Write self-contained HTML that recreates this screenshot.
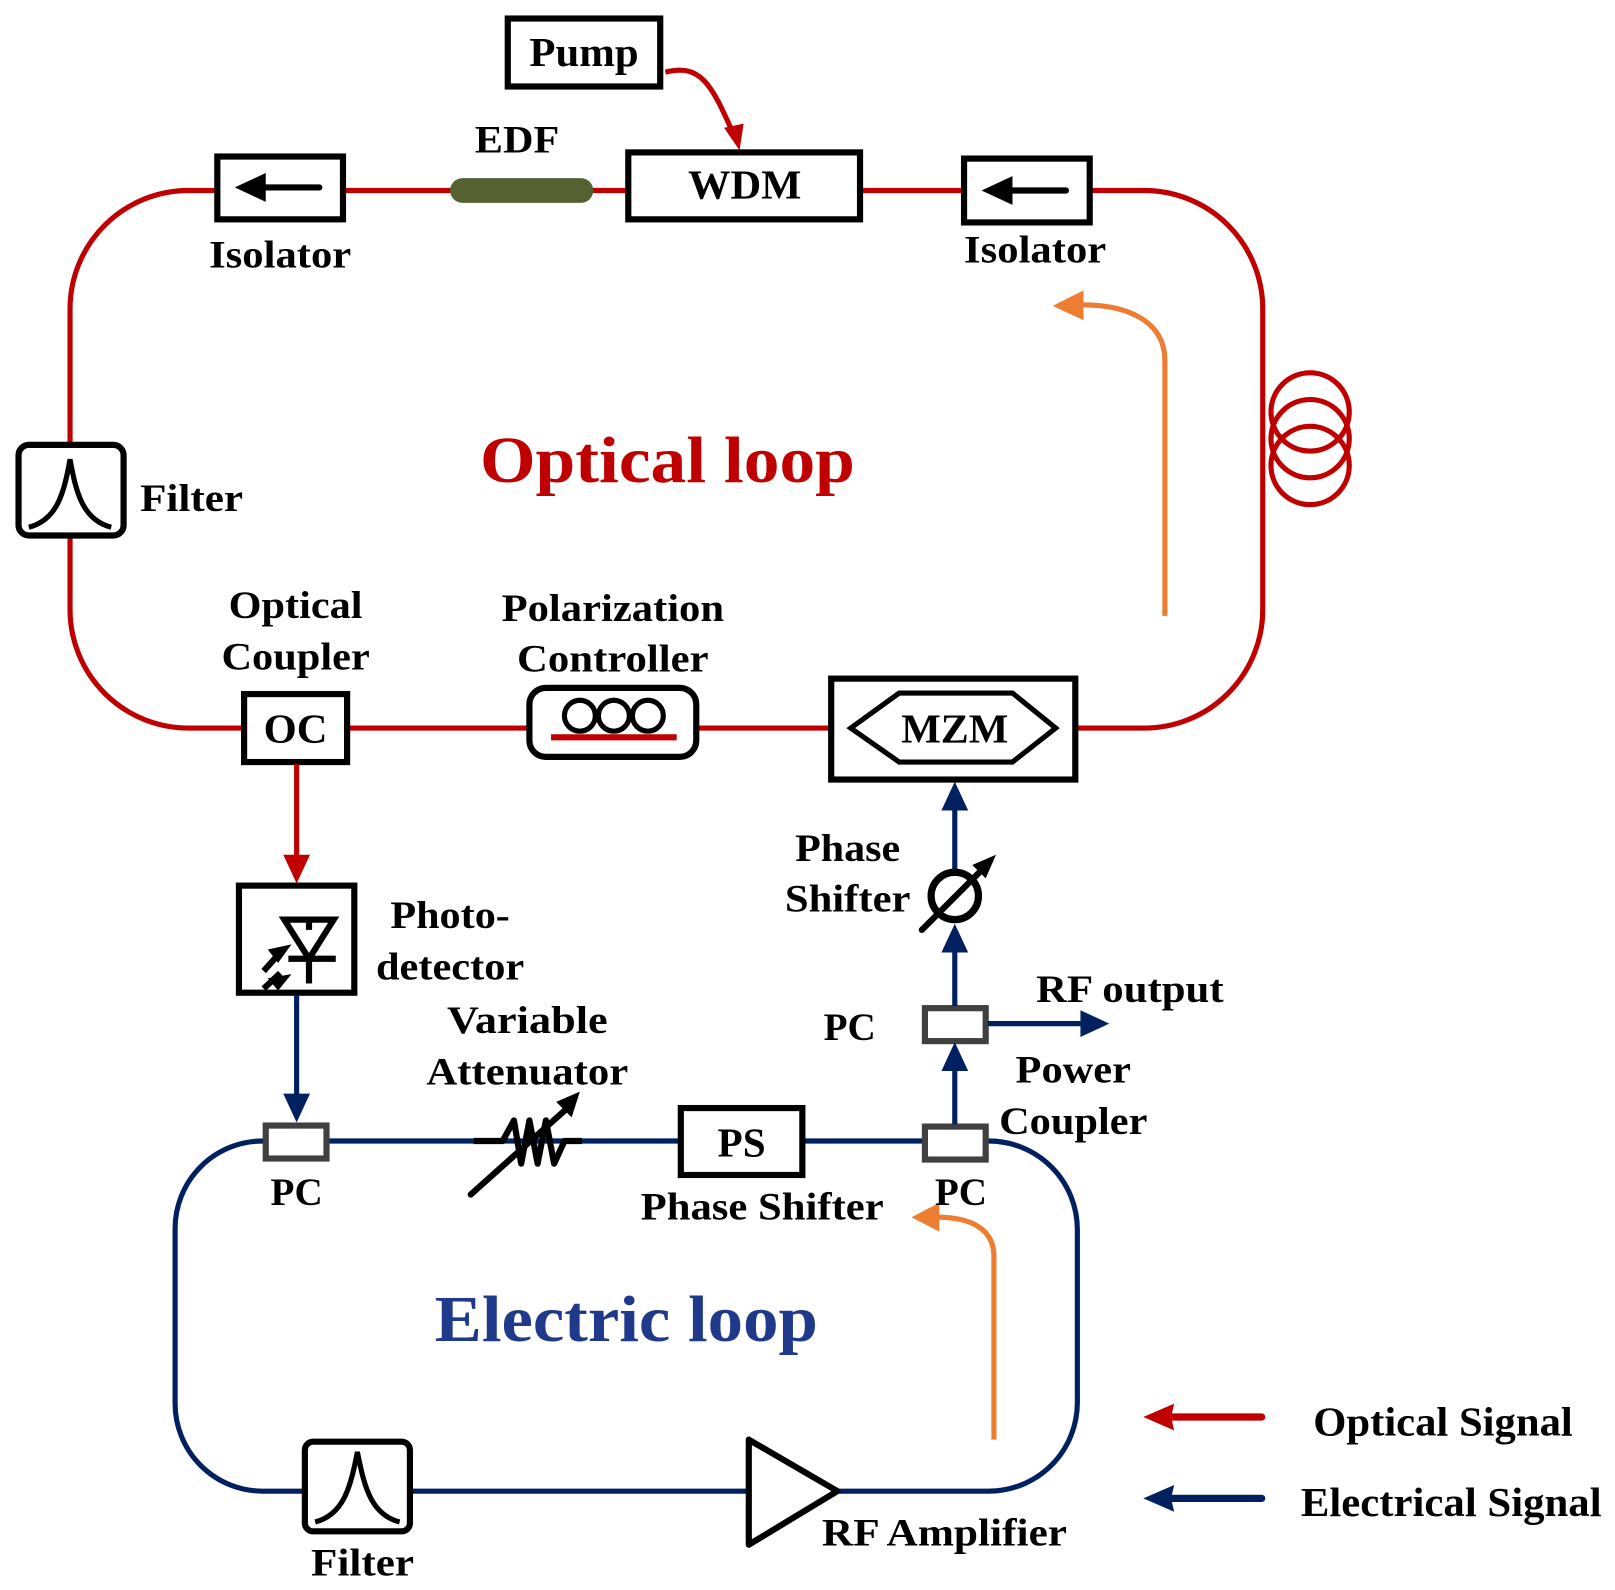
<!DOCTYPE html>
<html><head><meta charset="utf-8"><style>
html,body{margin:0;padding:0;background:#fff;}
svg{display:block;}
text{font-family:"Liberation Serif",serif;font-weight:bold;fill:#000;text-anchor:middle;}
</style></head><body>
<svg width="1615" height="1590" viewBox="0 0 1568 1544" preserveAspectRatio="none" xmlns="http://www.w3.org/2000/svg">
<g fill="none" stroke-linecap="round">
<path d="M183,185 H1111 A115,115 0 0 1 1226,300 V592 A115,115 0 0 1 1111,707 H183 A115,115 0 0 1 68,592 V300 A115,115 0 0 1 183,185Z" stroke="#c00000" stroke-width="5"/>
<path d="M255,1108 H960 A86,86 0 0 1 1046,1194 V1362 A86,86 0 0 1 960,1448 H255 A85,85 0 0 1 170,1363 V1193 A85,85 0 0 1 255,1108Z" stroke="#002060" stroke-width="5"/>
</g>
<rect x="211" y="152" width="122" height="61" fill="#fff" stroke="#000" stroke-width="6"/>
<line x1="250" y1="182" x2="310" y2="182" stroke="#000" stroke-width="6" stroke-linecap="round"/>
<path d="M228,182 L258,168 L258,196Z" fill="#000"/>
<rect x="936" y="154" width="122" height="62" fill="#fff" stroke="#000" stroke-width="6"/>
<line x1="975" y1="185" x2="1035" y2="185" stroke="#000" stroke-width="6" stroke-linecap="round"/>
<path d="M953,185 L983,171 L983,199Z" fill="#000"/>
<rect x="437" y="173" width="139" height="24" rx="12" fill="#556130"/>
<rect x="610" y="148" width="225" height="65" fill="#fff" stroke="#000" stroke-width="6"/>
<text x="723" y="193" font-size="40" textLength="110" lengthAdjust="spacingAndGlyphs">WDM</text>
<rect x="493" y="18" width="148" height="66" fill="#fff" stroke="#000" stroke-width="6"/>
<text x="567" y="64" font-size="40" textLength="106" lengthAdjust="spacingAndGlyphs">Pump</text>
<path d="M646,70 C680,62 690,80 712,130" fill="none" stroke="#c00000" stroke-width="5"/>
<path d="M718,146 L703,124 L722,120Z" fill="#c00000"/>
<text x="272" y="260" font-size="38" textLength="138" lengthAdjust="spacingAndGlyphs">Isolator</text>
<text x="1005" y="255" font-size="38" textLength="138" lengthAdjust="spacingAndGlyphs">Isolator</text>
<text x="502" y="148" font-size="38" textLength="82" lengthAdjust="spacingAndGlyphs">EDF</text>
<rect x="18" y="432" width="102" height="88" rx="10" fill="#fff" stroke="#000" stroke-width="6"/>
<path d="M28,512 C55,505 62,480 68,446 C74,480 81,505 108,512" fill="none" stroke="#000" stroke-width="5"/>
<text x="186" y="496" font-size="38" textLength="100" lengthAdjust="spacingAndGlyphs">Filter</text>
<g fill="none" stroke="#c00000" stroke-width="5"><circle cx="1272" cy="400" r="38"/><circle cx="1272" cy="426" r="38"/><circle cx="1272" cy="452" r="38"/></g>
<path d="M1131,598 V350 C1131,315 1100,296 1050,296" fill="none" stroke="#ed7d31" stroke-width="5"/>
<path d="M1022,297 L1052,282 L1052,311Z" fill="#ed7d31"/>
<path d="M965,1398 V1220 C965,1195 945,1182 910,1182" fill="none" stroke="#ed7d31" stroke-width="5"/>
<path d="M885,1182 L912,1168 L912,1196Z" fill="#ed7d31"/>
<text x="648" y="468" font-size="64" textLength="364" lengthAdjust="spacingAndGlyphs" style="fill:#c00000">Optical loop</text>
<rect x="237" y="674" width="100" height="66" fill="#fff" stroke="#000" stroke-width="6"/>
<text x="287" y="721" font-size="40" textLength="62" lengthAdjust="spacingAndGlyphs">OC</text>
<text x="287" y="600" font-size="38" textLength="130" lengthAdjust="spacingAndGlyphs">Optical</text>
<text x="287" y="650" font-size="38" textLength="144" lengthAdjust="spacingAndGlyphs">Coupler</text>
<rect x="514" y="668" width="162" height="67" rx="16" fill="#fff" stroke="#000" stroke-width="6"/>
<g fill="none" stroke="#000" stroke-width="5"><circle cx="563" cy="695" r="15"/><circle cx="596" cy="695" r="15"/><circle cx="629" cy="695" r="15"/></g>
<line x1="535" y1="716" x2="657" y2="716" stroke="#c00000" stroke-width="6"/>
<text x="595" y="603" font-size="38" textLength="216" lengthAdjust="spacingAndGlyphs">Polarization</text>
<text x="595" y="652" font-size="38" textLength="186" lengthAdjust="spacingAndGlyphs">Controller</text>
<rect x="807" y="659" width="237" height="98" fill="#fff" stroke="#000" stroke-width="6"/>
<path d="M826,707 L873,673 L983,673 L1025,707 L983,740 L873,740Z" fill="none" stroke="#000" stroke-width="5"/>
<text x="927" y="721" font-size="40" textLength="104" lengthAdjust="spacingAndGlyphs">MZM</text>
<line x1="288" y1="742" x2="288" y2="835" stroke="#c00000" stroke-width="5"/>
<path d="M288,858 L275,830 L301,830Z" fill="#c00000"/>
<rect x="232" y="860" width="112" height="104" fill="#fff" stroke="#000" stroke-width="6"/>
<g stroke="#000" stroke-width="6" fill="none"><line x1="300" y1="893" x2="300" y2="903"/><path d="M276,893 L324,893 L300,931Z"/><line x1="280" y1="931" x2="326" y2="931"/><line x1="300" y1="931" x2="300" y2="955"/><line x1="256" y1="943" x2="272" y2="925"/><line x1="256" y1="960" x2="272" y2="945"/></g>
<path d="M283,917 L260,922 L270,935Z M283,946 L260,950 L270,962Z" fill="#000"/>
<text x="437" y="901" font-size="38" textLength="116" lengthAdjust="spacingAndGlyphs">Photo-</text>
<text x="437" y="951" font-size="38" textLength="144" lengthAdjust="spacingAndGlyphs">detector</text>
<line x1="288" y1="966" x2="288" y2="1068" stroke="#002060" stroke-width="5"/>
<path d="M288,1090 L275,1062 L301,1062Z" fill="#002060"/>
<rect x="258" y="1093" width="59" height="32" fill="#fff" stroke="#404040" stroke-width="6"/>
<rect x="898" y="1094" width="59" height="32" fill="#fff" stroke="#404040" stroke-width="6"/>
<rect x="898" y="979" width="59" height="32" fill="#fff" stroke="#404040" stroke-width="6"/>
<text x="288" y="1170" font-size="38">PC</text>
<text x="933" y="1170" font-size="38">PC</text>
<text x="825" y="1010" font-size="38">PC</text>
<path d="M460,1108 H488 L499,1088 L506,1130 L514,1088 L522,1130 L530,1088 L538,1130 L548,1108 H565" fill="none" stroke="#000" stroke-width="6" stroke-linejoin="round"/>
<line x1="457" y1="1160" x2="552" y2="1075" stroke="#000" stroke-width="6" stroke-linecap="round"/>
<path d="M563,1060 L540,1070 L555,1085Z" fill="#000"/>
<text x="512" y="1003" font-size="38" textLength="156" lengthAdjust="spacingAndGlyphs">Variable</text>
<text x="512" y="1053" font-size="38" textLength="196" lengthAdjust="spacingAndGlyphs">Attenuator</text>
<rect x="661" y="1076" width="118" height="65" fill="#fff" stroke="#000" stroke-width="6"/>
<text x="720" y="1123" font-size="40">PS</text>
<text x="740" y="1184" font-size="38" textLength="236" lengthAdjust="spacingAndGlyphs">Phase Shifter</text>
<g stroke="#002060" stroke-width="5"><line x1="927" y1="1092" x2="927" y2="1035"/><line x1="927" y1="977" x2="927" y2="920"/><line x1="927" y1="846" x2="927" y2="780"/><line x1="959" y1="994" x2="1055" y2="994"/></g>
<path d="M927,1012 L914,1040 L940,1040Z M927,897 L914,925 L940,925Z M927,759 L914,787 L940,787Z M1077,994 L1049,981 L1049,1007Z" fill="#002060"/>
<circle cx="927" cy="870" r="23" fill="#fff" stroke="#000" stroke-width="7"/>
<line x1="895" y1="903" x2="955" y2="843" stroke="#000" stroke-width="6" stroke-linecap="round"/>
<path d="M967,830 L944,840 L957,853Z" fill="#000"/>
<text x="823" y="836" font-size="38" textLength="102" lengthAdjust="spacingAndGlyphs">Phase</text>
<text x="823" y="885" font-size="38" textLength="122" lengthAdjust="spacingAndGlyphs">Shifter</text>
<text x="1097" y="973" font-size="38" textLength="182" lengthAdjust="spacingAndGlyphs">RF output</text>
<text x="1042" y="1051" font-size="38" textLength="112" lengthAdjust="spacingAndGlyphs">Power</text>
<text x="1042" y="1101" font-size="38" textLength="144" lengthAdjust="spacingAndGlyphs">Coupler</text>
<text x="608" y="1302" font-size="64" textLength="372" lengthAdjust="spacingAndGlyphs" style="fill:#1f3a8a">Electric loop</text>
<rect x="296" y="1400" width="102" height="87" rx="8" fill="#fff" stroke="#000" stroke-width="6"/>
<path d="M306,1478 C333,1471 340,1446 347,1410 C354,1446 361,1471 388,1478" fill="none" stroke="#000" stroke-width="5"/>
<text x="352" y="1530" font-size="38" textLength="100" lengthAdjust="spacingAndGlyphs">Filter</text>
<path d="M727,1398 L727,1500 L813,1448Z" fill="#fff" stroke="#000" stroke-width="6" stroke-linejoin="round"/>
<text x="917" y="1501" font-size="38" textLength="238" lengthAdjust="spacingAndGlyphs">RF Amplifier</text>
<line x1="1130" y1="1376" x2="1225" y2="1376" stroke="#c00000" stroke-width="7" stroke-linecap="round"/>
<path d="M1110,1376 L1140,1363 L1137,1376 L1140,1389Z" fill="#c00000"/>
<line x1="1130" y1="1455" x2="1225" y2="1455" stroke="#002060" stroke-width="7" stroke-linecap="round"/>
<path d="M1110,1455 L1140,1442 L1137,1455 L1140,1468Z" fill="#002060"/>
<text x="1401" y="1394" font-size="40" textLength="252" lengthAdjust="spacingAndGlyphs">Optical Signal</text>
<text x="1409" y="1472" font-size="40" textLength="292" lengthAdjust="spacingAndGlyphs">Electrical Signal</text>
</svg>
</body></html>
